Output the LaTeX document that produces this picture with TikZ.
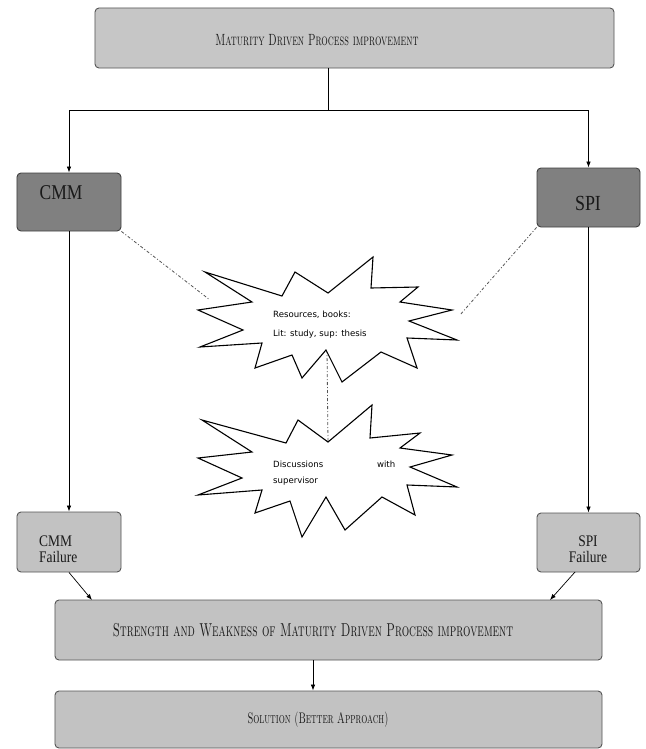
\documentclass[tikz,border=0pt]{standalone}
\usepackage{fontspec}
\usepackage{graphicx}
\usetikzlibrary{arrows.meta}
\newfontfamily\serifb{Liberation Serif}
\newfontfamily\sansb{DejaVu Sans}
\definecolor{lightbox}{HTML}{C6C6C6}
\definecolor{darkbox}{HTML}{808080}
\definecolor{midbox}{HTML}{C2C2C2}
\definecolor{edgegray}{HTML}{555555}
\definecolor{dashgray}{HTML}{555555}
\begin{document}
\begin{tikzpicture}[x=1bp,y=-1bp,
  box/.style={draw=edgegray, line width=0.9bp, rounded corners=4bp, inner sep=0pt},
  lightbx/.style={box, fill=lightbox},
  darkbx/.style={box, fill=darkbox, draw=black!75},
  midbx/.style={box, fill=midbox},
  conn/.style={draw=black, line width=0.7bp},
  arr/.style={conn, -{Latex[length=6bp,width=4.5bp]}},
  dd/.style={draw=dashgray, line width=0.8bp, dash pattern=on 3bp off 2bp on 1bp off 2bp},
  burst/.style={draw=black, line width=1.1bp, fill=white, line join=miter},
  sctext/.style={inner sep=0pt, text=black!90},
  sertext/.style={inner sep=0pt, text=black!90},
  burstext/.style={inner sep=0pt, text=black, align=left}
]
\useasboundingbox (0,0) rectangle (646,749);
\fill[white] (0,0) rectangle (646,749);

% boxes
\node[lightbx, minimum width=519bp, minimum height=60bp] (top) at (354.5,38) {};
\node[darkbx, minimum width=104bp, minimum height=58bp] (cmm) at (69,202) {};
\node[darkbx, minimum width=103bp, minimum height=59bp] (spi) at (588.5,197.5) {};
\node[midbx, minimum width=104bp, minimum height=60bp] (cmmf) at (69,542) {};
\node[midbx, minimum width=103bp, minimum height=59bp] (spif) at (588.5,542.5) {};
\node[midbx, minimum width=547bp, minimum height=60bp] (strength) at (328.5,630) {};
\node[midbx, minimum width=547bp, minimum height=57bp] (solution) at (328.5,719.5) {};

% texts
\node[sctext] (toptxt) at (317,40) {\scalebox{1}[1.6]{\fontsize{10.2}{12}\selectfont\textsc{Maturity Driven Process improvement}}};
\node[sertext] (cmmtxt) at (61,193) {\scalebox{1}[1.2]{\serifb\fontsize{17.6}{20}\selectfont CMM}};
\node[sertext] (spitxt) at (588,203) {\scalebox{1}[1.2]{\serifb\fontsize{18}{20}\selectfont SPI}};
\node[sertext, anchor=west] (cmmftxt) at (39,551) {\scalebox{1}[1.2]{\serifb\fontsize{13.5}{15}\selectfont\begin{tabular}{@{}l@{}}CMM\\[-1pt]Failure\end{tabular}}};
\node[sertext] (spiftxt) at (588,551) {\scalebox{1}[1.2]{\serifb\fontsize{13.5}{15}\selectfont\begin{tabular}{@{}c@{}}SPI\\[-1pt]Failure\end{tabular}}};
\node[sctext] (strtxt) at (313,630) {\scalebox{1}[1.6]{\fontsize{11.7}{13}\selectfont\textsc{Strength and Weakness of Maturity Driven Process improvement}}};
\node[sctext] (soltxt) at (318,720) {\scalebox{1}[1.6]{\fontsize{9.6}{12}\selectfont\textsc{Solution (Better Approach)}}};

% connectors from the top
\coordinate (j) at (328,110);
\draw[conn] (j |- top.south) -- (j);
\draw[arr] (j) -| (cmm.north);
\draw[arr] (j) -| (spi.north);
\draw[arr] (cmm.south) -- (cmmf.north);
\draw[arr] (spi.south) -- (spif.north);
\coordinate (sa) at (92,600);
\coordinate (sb) at (550,600);
\coordinate (spifs) at (575,572);
\draw[arr] (cmmf.south) -- (sa);
\draw[arr] (spifs) -- (sb);
\coordinate (k) at (313,0);
\draw[arr] (k |- strength.south) -- (k |- solution.north);

% dash-dot connectors
\coordinate (b1l) at (210,300);
\coordinate (b1r) at (460,315);
\coordinate (b1b) at (327,350);
\coordinate (b2t) at (328,442);
\draw[dd] (cmm.south east) -- (b1l);
\draw[dd] (spi.south west) -- (b1r);
\draw[dd] (b1b) -- (b2t);

% starbursts
\draw[burst] (205,272) -- (282,296) -- (295,272) -- (328,293) -- (373,257) -- (371,288) -- (418,287) -- (400,302) -- (452,310) -- (409,321) -- (457,340) -- (407,338) -- (417,368) -- (381,352) -- (342,382) -- (326,350) -- (302,378) -- (292,355) -- (255,368) -- (262,343) -- (200,347) -- (243,330) -- (198,310) -- (252,302) -- cycle;
\draw[burst] (202,420) -- (286,443) -- (298,420) -- (328,442) -- (372,405) -- (370,438) -- (420,433) -- (400,448) -- (452,455) -- (410,467) -- (457,487) -- (407,485) -- (415,515) -- (382,497) -- (345,530) -- (326,497) -- (302,537) -- (290,501) -- (255,513) -- (262,490) -- (198,495) -- (242,478) -- (198,458) -- (252,452) -- cycle;

\node[burstext, anchor=north west, font=\sansb\fontsize{8.6}{19}\selectfont] (b1txt) at (273,311) {Resources, books:\\ Lit: study, sup: thesis};
\node[burstext, anchor=north west, font=\sansb\fontsize{8.6}{16}\selectfont] (b2txt) at (273,461) {\hbox to 122bp{Discussions\hfill with}\\ supervisor};
\end{tikzpicture}
\end{document}
